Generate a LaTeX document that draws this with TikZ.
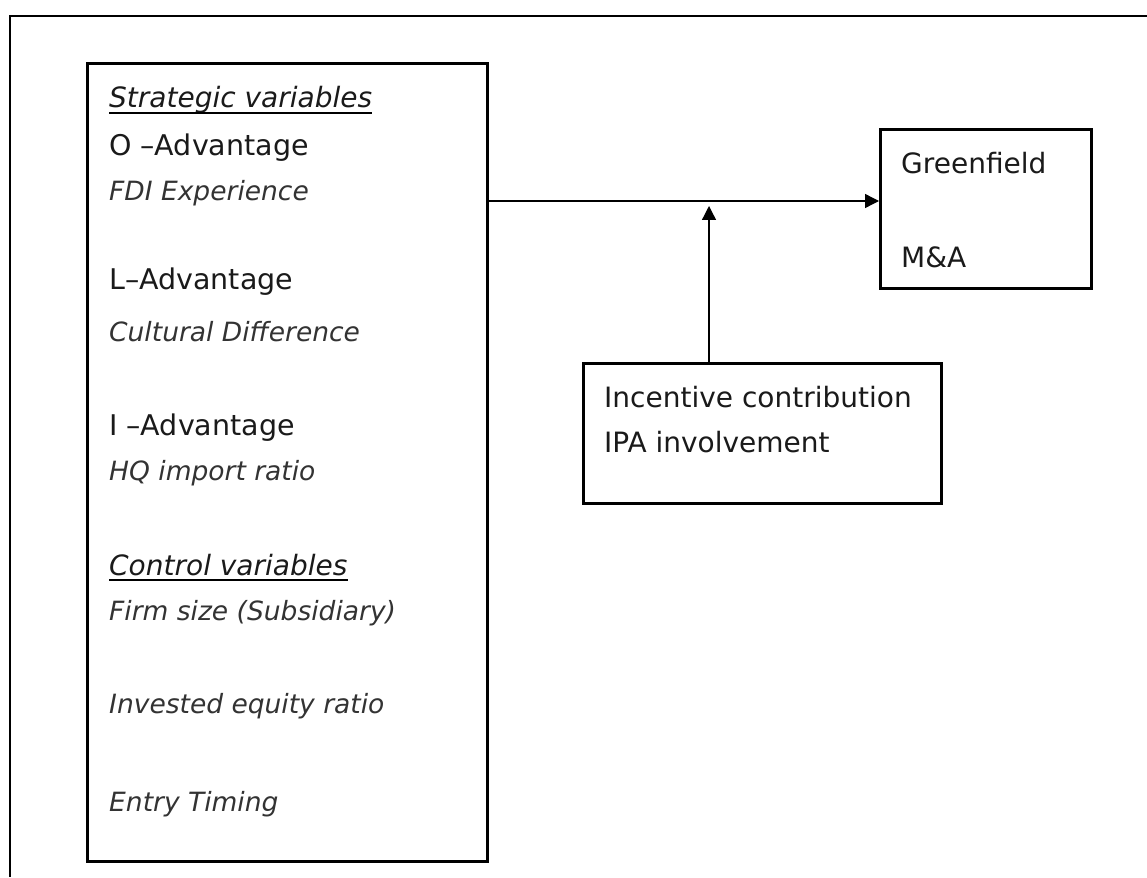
\documentclass[tikz,border=0pt]{standalone}
\usepackage{fontspec}
\setmainfont{DejaVu Sans}
\usetikzlibrary{arrows.meta}
\tikzset{
  panel/.style={draw=black,line width=3pt,inner sep=0pt,anchor=north west},
  headvar/.style={anchor=base west,inner sep=0pt,text=textblack,font=\fontsize{28}{34}\selectfont\itshape},
  advvar/.style={anchor=base west,inner sep=0pt,text=textblack,font=\fontsize{28.5}{34}\selectfont},
  itemvar/.style={anchor=base west,inner sep=0pt,text=itemgrey,font=\fontsize{26.5}{32}\selectfont\itshape},
  boxtext/.style={anchor=base west,inner sep=0pt,text=textblack,font=\fontsize{28}{34}\selectfont},
  flow/.style={line width=1.3pt,-{Triangle[length=14pt,width=14pt]}}
}
\begin{document}
\begin{tikzpicture}[x=1pt,y=-1pt]
\definecolor{textblack}{HTML}{1A1A1A}
\definecolor{itemgrey}{HTML}{333333}
\useasboundingbox (0,0) rectangle (1147,877);
\draw[line width=2.5pt] (9.25,16) -- (1147,16);
\draw[line width=1.5pt] (10,16) -- (10,877);
\node[panel,minimum width=400pt,minimum height=798pt] (vars) at (86,62) {};
\node[panel,minimum width=211pt,minimum height=159pt] (modes) at (879,128) {};
\node[panel,minimum width=358pt,minimum height=140pt] (ipa) at (582,362) {};
\node[headvar] (strat) at (109,108) {Strategic variables};
\draw[line width=1.6pt] ([yshift=-5pt]strat.base west) -- ([yshift=-5pt]strat.base east);
\node[advvar] (oadv) at (109,156) {O –Advantage};
\node[itemvar] (fdi) at (109,201) {FDI Experience};
\node[advvar] (ladv) at (109,289) {L–Advantage};
\node[itemvar] (cult) at (109,341) {Cultural Difference};
\node[advvar] (iadv) at (109,435) {I –Advantage};
\node[itemvar] (hq) at (109,480) {HQ import ratio};
\node[headvar] (ctrl) at (109,575) {Control variables};
\draw[line width=1.6pt] ([yshift=-5pt]ctrl.base west) -- ([yshift=-5pt]ctrl.base east);
\node[itemvar] (size) at (109,620) {Firm size (Subsidiary)};
\node[itemvar] (equity) at (109,713) {Invested equity ratio};
\node[itemvar] (timing) at (109,811) {Entry Timing};
\node[boxtext] (green) at (901,174) {Greenfield};
\node[boxtext] (ma) at (901,267) {M\&A};
\node[boxtext] (incent) at (604,407) {Incentive contribution};
\node[boxtext] (invol) at (604,452) {IPA involvement};
\coordinate (split) at (709,201);
\draw[flow] (vars.east |- split) -- (modes.west |- split);
\draw[flow] (ipa.north -| split) -- ([yshift=-5pt]split);
\end{tikzpicture}
\end{document}
